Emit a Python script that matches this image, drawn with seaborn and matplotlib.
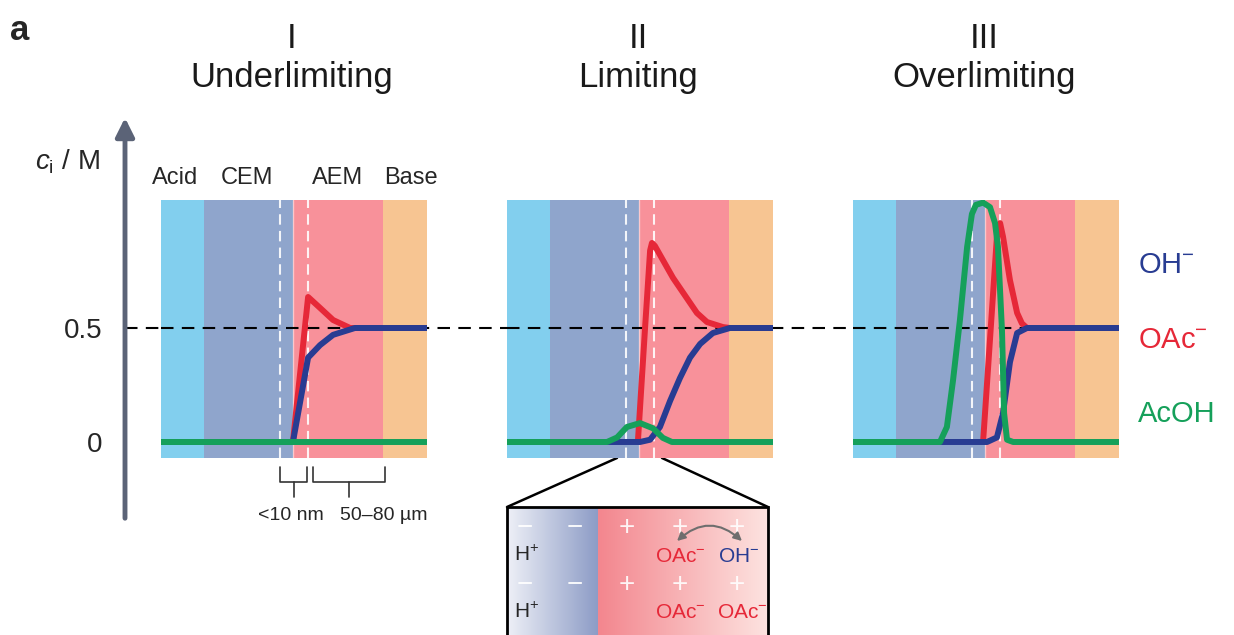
import numpy as np
import pandas as pd
import seaborn as sns
import matplotlib.pyplot as plt
from matplotlib.patches import Rectangle
from matplotlib.colors import LinearSegmentedColormap

sns.set_style("white")
plt.rcParams["font.family"] = ["Liberation Sans", "DejaVu Sans"]
plt.rcParams["mathtext.fontset"] = "custom"
plt.rcParams["mathtext.rm"] = "Liberation Sans"
plt.rcParams["mathtext.it"] = "Liberation Sans:italic"

# membrane regions (position units 0-100 across each panel)
band_names = ["Acid", "CEM", "AEM", "Base"]
band_edges = [0, 16.2, 49.8, 83.5, 100]
band_colors = ["#82cfee", "#8fa5cc", "#f8919a", "#f7c592"]
interface_lines = [44.7, 55.3]

regime_num = ["I", "II", "III"]
regime_name = ["Underlimiting", "Limiting", "Overlimiting"]
species = ["OH$^{-}$", "OAc$^{-}$", "AcOH"]
species_colors = {"OH": "#283c92", "OAc": "#e62838", "AcOH": "#15a05a"}

# concentration profiles (M)
p1 = {
    "OH": ([0, 49.6, 55.3, 59.8, 64.7, 72.9, 100],
           [0, 0, 0.37, 0.425, 0.47, 0.5, 0.5]),
    "OAc": ([49.6, 55.3, 59.8, 64.7, 71.1, 100],
            [0, 0.636, 0.588, 0.535, 0.5, 0.5]),
    "AcOH": ([0, 100], [0, 0]),
}
p2 = {
    "OH": ([0, 50.0, 53.8, 57.5, 61.3, 65.0, 68.8, 72.6, 77.4, 83.8, 100],
           [0, 0, 0.01, 0.066, 0.18, 0.28, 0.37, 0.43, 0.478, 0.5, 0.5]),
    "OAc": ([49.2, 51.9, 53.8, 54.5, 55.6, 62.4, 71.4, 75.2, 81.2, 83.8, 100],
            [0, 0.5, 0.84, 0.873, 0.86, 0.72, 0.566, 0.526, 0.504, 0.5, 0.5]),
    "AcOH": ([0, 37.6, 41.4, 45.1, 50.0, 54.9, 58.6, 62.0, 100],
             [0, 0, 0.02, 0.066, 0.083, 0.06, 0.018, 0, 0]),
}
p3 = {
    "OH": ([0, 50.4, 54.1, 56.4, 59.0, 61.7, 65.4, 100],
           [0, 0, 0.02, 0.127, 0.35, 0.478, 0.5, 0.5]),
    "OAc": ([48.9, 54.1, 55.3, 56.4, 59.0, 61.7, 63.5, 65.4, 100],
            [0, 0.9, 0.96, 0.9, 0.71, 0.566, 0.52, 0.5, 0.5]),
    "AcOH": ([0, 32.7, 35.3, 37.6, 40.2, 42.9, 44.7, 46.2, 48.9, 51.5, 53.4, 54.5, 56.0, 56.8, 57.9, 60.2, 100],
             [0, 0, 0.066, 0.27, 0.535, 0.855, 1.0, 1.04, 1.05, 1.03, 0.96, 0.855, 0.49, 0.127, 0.01, 0, 0]),
}
profiles = [p1, p2, p3]
dash_end = [100, 100, 65.4]

W, H = 1234, 635
fig = plt.figure(figsize=(W / 100, H / 100), dpi=100)
bg = fig.add_axes([0, 0, 1, 1])
bg.set_xlim(0, W)
bg.set_ylim(H, 0)
bg.axis("off")

panel_left = [161, 507, 853]
pw, ptop, pbot = 266, 200, 458
ylo, yhi = -0.0702, 1.0614

# dashed 0.5 M guide across panels
bg.plot([125, 1030], [328, 328], color="black", lw=1.5, dashes=(6, 4), zorder=1)

axes = []
for i, left in enumerate(panel_left):
    ax = fig.add_axes([left / W, 1 - pbot / H, pw / W, (pbot - ptop) / H])
    ax.set_xlim(0, 100)
    ax.set_ylim(ylo, yhi)
    ax.patch.set_visible(False)
    for s in ax.spines.values():
        s.set_visible(False)
    ax.set_xticks([])
    ax.set_yticks([])
    for j in range(4):
        ax.axvspan(band_edges[j], band_edges[j + 1], color=band_colors[j], lw=0, zorder=0)
    ax.axvline(band_edges[2], color="white", lw=1, alpha=0.5, zorder=0.5)
    for xv in interface_lines:
        ax.axvline(xv, color="white", lw=1.5, dashes=(5, 3), alpha=0.9, zorder=0.6)
    ax.hlines(0.5, 0, dash_end[i], color="black", lw=1.5, linestyles=(0, (6, 4)), zorder=1)
    for sp in ["OAc", "OH", "AcOH"]:
        xs, cs = profiles[i][sp]
        df = pd.DataFrame({"x": xs, "c": cs})
        sns.lineplot(data=df, x="x", y="c", ax=ax, color=species_colors[sp], lw=4.3,
                     sort=False, estimator=None, zorder=3,
                     solid_joinstyle="round", solid_capstyle="butt")
    ax.set_xlabel("")
    ax.set_ylabel("")
    cx = left + pw / 2 - 2
    bg.text(cx, 38, regime_num[i], ha="center", va="center", fontsize=25, color="#1a1a1a")
    bg.text(cx, 77, regime_name[i], ha="center", va="center", fontsize=25, color="#1a1a1a")
    axes.append(ax)

# y ticks on first panel
axes[0].set_yticks([0, 0.5])
axes[0].set_yticklabels(["0", "0.5"], fontsize=20)
axes[0].tick_params(axis="y", length=0, pad=42)

# vertical axis arrow
bg.annotate("", xy=(125, 115), xytext=(125, 521),
            arrowprops=dict(arrowstyle="-|>", color="#5b6377", lw=3.5, mutation_scale=28))
bg.text(67, 162, "$c_{\\mathrm{i}}$ / M", ha="center", va="center", fontsize=20)
bg.text(10, 31, "a", ha="left", va="center", fontsize=25, fontweight="heavy")

# region labels
for name, xc in zip(band_names, [175, 247, 338, 411]):
    bg.text(xc, 178, name, ha="center", va="center", fontsize=17)

# species labels
for lab, key, yc in zip(species, ["OH", "OAc", "AcOH"], [265, 340, 414]):
    bg.text(1138, yc, lab, ha="left", va="center", fontsize=21, color=species_colors[key])

# thickness brackets
for (x0, x1), lab, lx in zip([(280, 307), (313, 385)], ["<10 nm", "50\u201380 \u00b5m"], [291, 384]):
    xm = (x0 + x1) / 2
    bg.plot([x0, x0, x1, x1], [467, 482, 482, 467], color="#333333", lw=1.2)
    bg.plot([xm, xm], [482, 497], color="#333333", lw=1.2)
    bg.text(lx, 516, lab, ha="center", va="center", fontsize=14)

# zoom inset
bg.plot([617, 507], [458, 507], color="black", lw=1.8)
bg.plot([662, 768], [458, 507], color="black", lw=1.8)
grad = np.linspace(0, 1, 256)[None, :]
cem_cmap = LinearSegmentedColormap.from_list("cem", ["#eef0f7", "#8d9cc6"])
aem_cmap = LinearSegmentedColormap.from_list("aem", ["#f3868e", "#fde3e0"])
bg.imshow(grad, cmap=cem_cmap, extent=(507, 598, 640, 507), aspect="auto", zorder=2)
bg.imshow(grad, cmap=aem_cmap, extent=(598, 768, 640, 507), aspect="auto", zorder=2)
bg.set_xlim(0, W)
bg.set_ylim(H, 0)
bg.add_patch(Rectangle((507, 507), 261, 140, fill=False, ec="black", lw=2, zorder=4))
for yy in [528, 585]:
    for xx in [525, 575]:
        bg.text(xx, yy, "\u2212", ha="center", va="center", fontsize=20, color="white", alpha=0.9, zorder=3)
    for xx in [627, 680, 737]:
        bg.text(xx, yy, "+", ha="center", va="center", fontsize=20, color="white", alpha=0.9, zorder=3)
for yy in [555, 612]:
    bg.text(527, yy, "H$^{+}$", ha="center", va="center", fontsize=15, zorder=3)
bg.text(680, 557, "OAc$^{-}$", ha="center", va="center", fontsize=15, color=species_colors["OAc"], zorder=3)
bg.text(739, 557, "OH$^{-}$", ha="center", va="center", fontsize=15, color=species_colors["OH"], zorder=3)
bg.text(680, 613, "OAc$^{-}$", ha="center", va="center", fontsize=15, color=species_colors["OAc"], zorder=3)
bg.text(742, 613, "OAc$^{-}$", ha="center", va="center", fontsize=15, color=species_colors["OAc"], zorder=3)
bg.annotate("", xy=(742, 541), xytext=(677, 541), zorder=3,
            arrowprops=dict(arrowstyle="<|-|>", color="#6e6e6e", lw=1.5, mutation_scale=12,
                            connectionstyle="arc3,rad=-0.45", shrinkA=0, shrinkB=0))

fig.savefig("out.png", dpi=100)
